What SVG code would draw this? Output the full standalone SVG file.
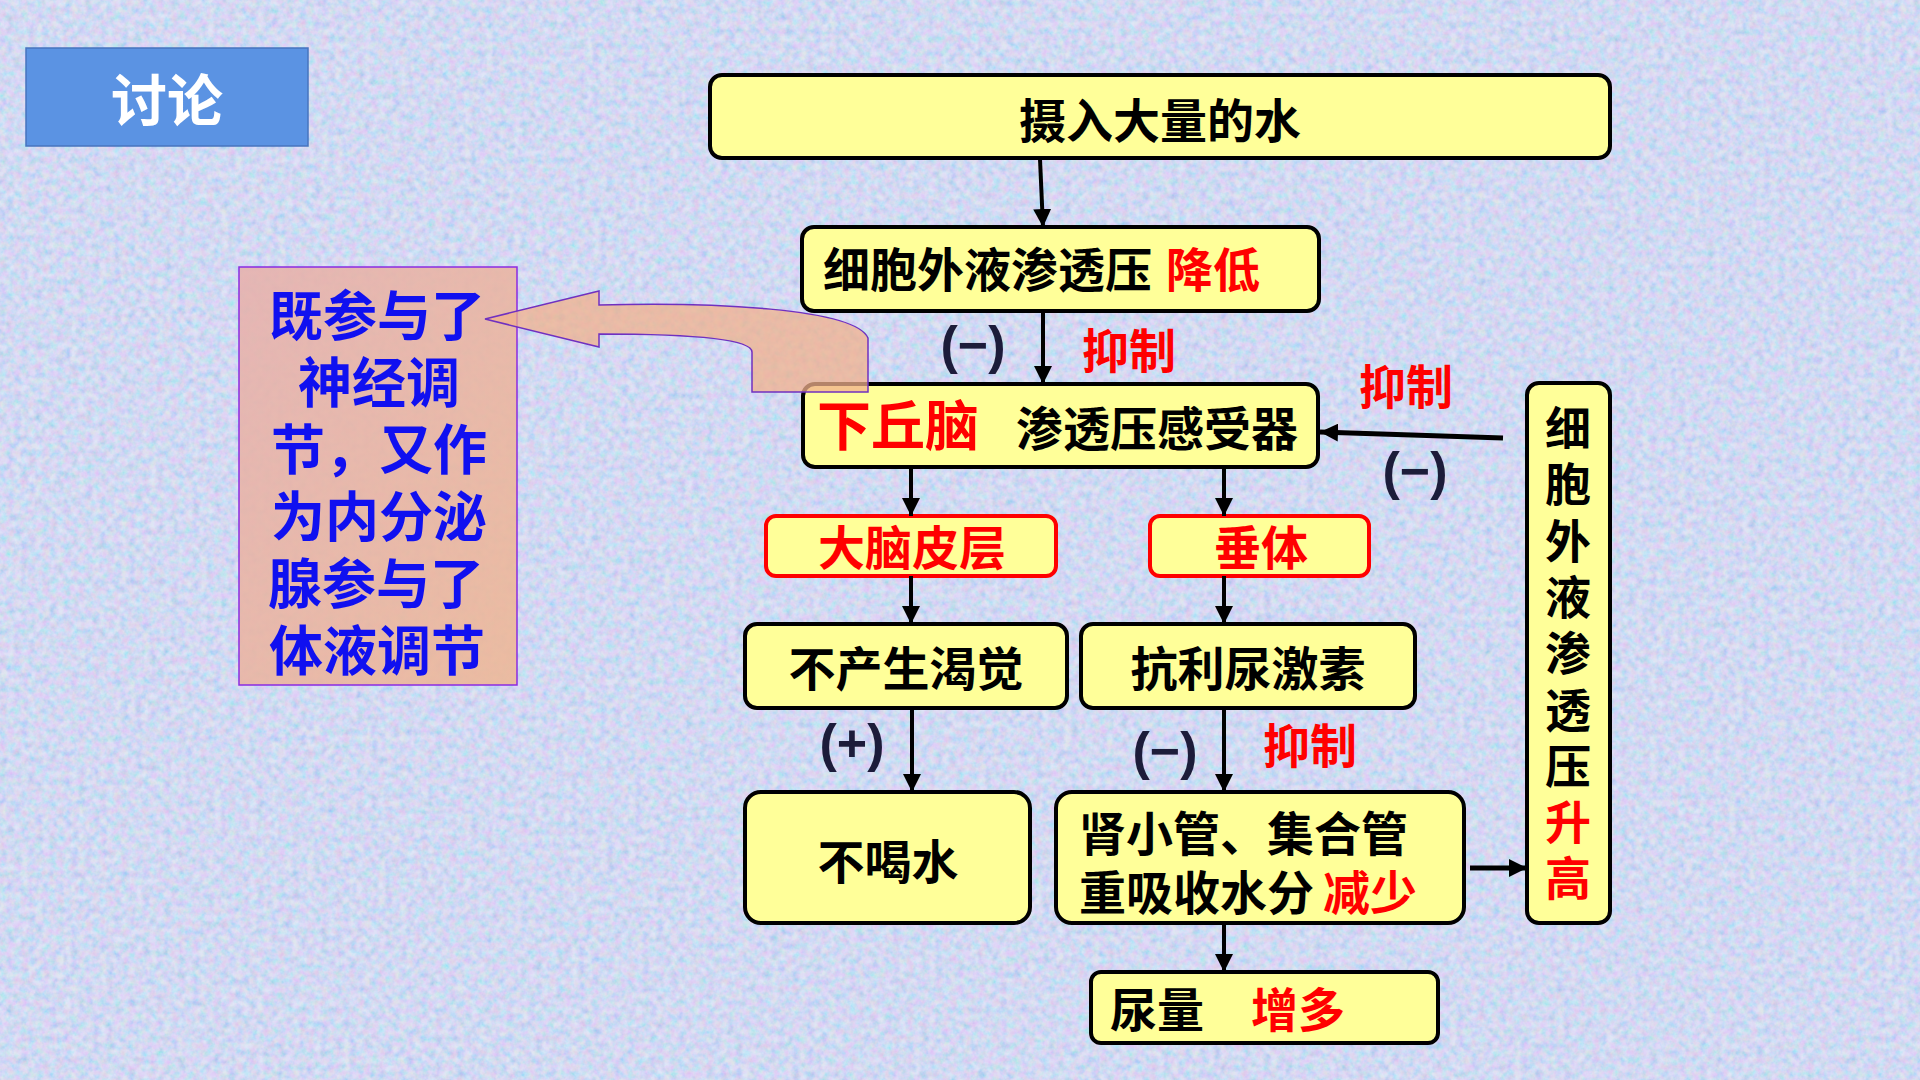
<svg xmlns="http://www.w3.org/2000/svg" width="1920" height="1080" viewBox="0 0 1920 1080">
<style>
.box{fill:#FFFF99;stroke:#000;stroke-width:4}
.rbox{fill:#FFFF99;stroke:#FF0000;stroke-width:4}
.t{font-family:"Liberation Sans","Noto Sans CJK SC",sans-serif;font-weight:700;font-size:47px;fill:#000}
.r{fill:#FF0000}
.big{font-size:54px}
.c{text-anchor:middle}
.blue{font-family:"Liberation Sans","Noto Sans CJK SC",sans-serif;font-weight:700;font-size:54px;fill:#1010F0;text-anchor:middle}
.sign{font-family:"Liberation Sans","Noto Sans",sans-serif;font-weight:700;font-size:52px;fill:#1C1C3A;text-anchor:middle}
.ln{stroke:#000;stroke-width:4;fill:none;marker-end:url(#ah)}
</style>
<defs>
<marker id="ah" markerUnits="userSpaceOnUse" markerWidth="20" markerHeight="18" refX="18" refY="9" orient="auto">
<path d="M0,0 L18,9 L0,18 Z" fill="#000"/>
</marker>
<filter id="noise" x="0" y="0" width="100%" height="100%">
<feTurbulence type="fractalNoise" baseFrequency="0.14" numOctaves="3" seed="7"/>
<feColorMatrix type="matrix" values="1.3 0 0 0 0.15  0 0.7 0 0 0.45  0 0 0.5 0 0.68  0 0 0 0 1"/>
</filter>
<linearGradient id="peach" x1="0" y1="0" x2="1" y2="1">
<stop offset="0" stop-color="#E6B2AE"/>
<stop offset="1" stop-color="#EDB898"/>
</linearGradient>
</defs>
<rect width="1920" height="1080" fill="#B9C9EE"/>
<rect width="1920" height="1080" filter="url(#noise)" opacity="0.55"/>

<g id="title">
<rect x="26" y="48" width="282" height="98" fill="#5B93E3" stroke="#4774BE" stroke-width="1.5"/>
<text x="167" y="121" class="t c" style="font-size:56px;fill:#fff">讨论</text>
</g>

<g id="note">
<rect x="239" y="267" width="278" height="418" fill="url(#peach)" fill-opacity="0.9" stroke="#8A2BE2" stroke-width="1.5"/>
<text class="blue" x="377" y="336"><tspan x="377">既参与了</tspan><tspan x="379" dy="67">神经调</tspan><tspan x="379" dy="67">节，又作</tspan><tspan x="379" dy="67">为内分泌</tspan><tspan x="376" dy="67">腺参与了</tspan><tspan x="377" dy="67">体液调节</tspan></text>
</g>

<g id="n1"><rect class="box" x="710" y="75" width="900" height="83" rx="12"/>
<text class="t c" x="1160" y="138">摄入大量的水</text></g>

<g id="n2"><rect class="box" x="802" y="227" width="517" height="84" rx="12"/>
<text class="t" x="823" y="287">细胞外液渗透压<tspan class="r" x="1166">降低</tspan></text></g>

<g id="n3"><rect class="box" x="803" y="384" width="515" height="83" rx="12"/>
<text class="t" x="817" y="446"><tspan class="big r">下丘脑</tspan><tspan x="1016">渗透压感受器</tspan></text></g>

<g id="n4"><rect class="rbox" x="766" y="516" width="290" height="60" rx="10"/>
<text class="t r c" x="912" y="565">大脑皮层</text></g>

<g id="n5"><rect class="rbox" x="1150" y="516" width="219" height="60" rx="10"/>
<text class="t r c" x="1261" y="565">垂体</text></g>

<g id="n6"><rect class="box" x="745" y="624" width="322" height="84" rx="12"/>
<text class="t c" x="906" y="686">不产生渴觉</text></g>

<g id="n7"><rect class="box" x="1081" y="624" width="334" height="84" rx="12"/>
<text class="t c" x="1248" y="686">抗利尿激素</text></g>

<g id="n8"><rect class="box" x="745" y="792" width="285" height="131" rx="16"/>
<text class="t c" x="888" y="879">不喝水</text></g>

<g id="n9"><rect class="box" x="1056" y="792" width="408" height="131" rx="16"/>
<text class="t" x="1079" y="851">肾小管、集合管<tspan x="1079" dy="59">重吸收水分</tspan><tspan class="r" x="1323">减少</tspan></text></g>

<g id="n10"><rect class="box" x="1091" y="972" width="347" height="71" rx="10"/>
<text class="t" x="1110" y="1027">尿量<tspan class="r" x="1251">增多</tspan></text></g>

<g id="n11"><rect class="box" x="1527" y="383" width="83" height="540" rx="12"/>
<text class="t c" style="font-size:46px" x="1568" y="445"><tspan x="1568">细</tspan><tspan x="1568" dy="56.3">胞</tspan><tspan x="1568" dy="56.3">外</tspan><tspan x="1568" dy="56.3">液</tspan><tspan x="1568" dy="56.3">渗</tspan><tspan x="1568" dy="56.3">透</tspan><tspan x="1568" dy="56.3">压</tspan><tspan x="1568" dy="56.3" class="r">升</tspan><tspan x="1568" dy="56.3" class="r">高</tspan></text>
</g>

<g id="connectors">
<line class="ln" x1="1040" y1="159" x2="1043" y2="227"/>
<line class="ln" x1="1043" y1="311" x2="1043" y2="384"/>
<line class="ln" x1="1503" y1="438" x2="1320" y2="432" style="stroke-width:5"/>
<line class="ln" x1="911" y1="467" x2="911" y2="516"/>
<line class="ln" x1="1224" y1="467" x2="1224" y2="516"/>
<line class="ln" x1="911" y1="576" x2="911" y2="624"/>
<line class="ln" x1="1224" y1="576" x2="1224" y2="624"/>
<line class="ln" x1="912" y1="708" x2="912" y2="792"/>
<line class="ln" x1="1224" y1="708" x2="1224" y2="792"/>
<line class="ln" x1="1224" y1="923" x2="1224" y2="972"/>
<line class="ln" x1="1470" y1="868" x2="1527" y2="868" style="stroke-width:5"/>
<path d="M485,319 L599,291 L599,305 C710,302 855,308 868,338 L868,392 L752,392 L752,352 C752,340 700,334 599,334 L599,347 Z" fill="#F0B08C" fill-opacity="0.75" stroke="#7030C0" stroke-width="1.5"/>
</g>

<g id="labels">
<text class="sign" x="973" y="363">(−)</text>
<text class="t r c" x="1129" y="368">抑制</text>
<text class="t r c" x="1406" y="404">抑制</text>
<text class="sign" x="1415" y="489">(−)</text>
<text class="sign" x="852" y="761">(+)</text>
<text class="sign" x="1165" y="769">(−)</text>
<text class="t r c" x="1310" y="763">抑制</text>
</g>
</svg>
